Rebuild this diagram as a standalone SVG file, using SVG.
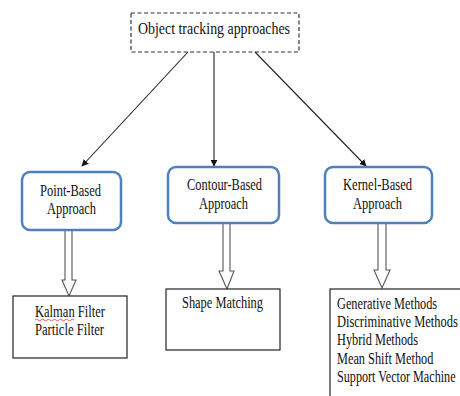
<svg xmlns="http://www.w3.org/2000/svg" width="460" height="396" viewBox="0 0 460 396">
<defs>
<style>
text{font-family:"Liberation Serif","Times New Roman",serif;font-size:16px;fill:#111;}
.blue{fill:#fff;stroke:#4f81bd;stroke-width:2.5;}
.box{fill:#fff;stroke:#222;stroke-width:1.2;}
.line{stroke:#222;stroke-width:1.1;fill:none;}
.hollow{fill:#fff;stroke:#555;stroke-width:1.1;}
</style>
<marker id="ah" viewBox="0 0 10 10" refX="9" refY="5" markerWidth="7" markerHeight="7" orient="auto" markerUnits="userSpaceOnUse">
<path d="M0,0 L10,5 L0,10 z" fill="#111"/>
</marker>
</defs>
<rect width="460" height="396" fill="#fff"/>
<g id="root">
<rect x="131" y="13" width="168" height="39" fill="#fff" stroke="#333" stroke-width="1.2" stroke-dasharray="4,2.5"/>
<text x="138" y="34" textLength="152" lengthAdjust="spacingAndGlyphs">Object tracking approaches</text>
</g>
<g id="connectors">
<line class="line" x1="188" y1="52" x2="82" y2="166" marker-end="url(#ah)"/>
<line class="line" x1="214" y1="52" x2="214" y2="166" marker-end="url(#ah)"/>
<line class="line" x1="255" y1="52" x2="366" y2="166" marker-end="url(#ah)"/>
<path class="hollow" d="M65,230 L72,230 L72,280 L76,280 L69,296 L62,280 L65,280 Z"/>
<path class="hollow" d="M223,223 L230,223 L230,271 L234,271 L227,289 L219,271 L223,271 Z"/>
<path class="hollow" d="M378,223 L386,223 L386,270 L390,270 L382,288 L374,270 L378,270 Z"/>
</g>
<g id="point">
<rect class="blue" x="22" y="172" width="99" height="58" rx="8"/>
<text x="40" y="196" textLength="61" lengthAdjust="spacingAndGlyphs">Point-Based</text>
<text x="47" y="214" textLength="49" lengthAdjust="spacingAndGlyphs">Approach</text>
</g>
<g id="contour">
<rect class="blue" x="168" y="167" width="111" height="56" rx="8"/>
<text x="187" y="190" textLength="75" lengthAdjust="spacingAndGlyphs">Contour-Based</text>
<text x="199" y="209" textLength="49" lengthAdjust="spacingAndGlyphs">Approach</text>
</g>
<g id="kernel">
<rect class="blue" x="325" y="167" width="107" height="56" rx="8"/>
<text x="343" y="190" textLength="69" lengthAdjust="spacingAndGlyphs">Kernel-Based</text>
<text x="353" y="209" textLength="49" lengthAdjust="spacingAndGlyphs">Approach</text>
</g>
<g id="point-list">
<rect class="box" x="13" y="296" width="114" height="62"/>
<text x="35" y="317" textLength="70" lengthAdjust="spacingAndGlyphs">Kalman Filter</text>
<path d="M35,320 q1.5,-1.5 3,0 t3,0 t3,0 t3,0 t3,0 t3,0 t3,0 t3,0 t3,0 t3,0 t3,0 t3,0 t3,0" fill="none" stroke="#d33" stroke-width="0.8"/>
<text x="35" y="335" textLength="69" lengthAdjust="spacingAndGlyphs">Particle Filter</text>
</g>
<g id="contour-list">
<rect class="box" x="166" y="289" width="114" height="61"/>
<text x="182" y="308" textLength="81" lengthAdjust="spacingAndGlyphs">Shape Matching</text>
</g>
<g id="kernel-list">
<rect class="box" x="330" y="289" width="140" height="120"/>
<text transform="translate(337,309) scale(0.77,1)">Generative Methods</text>
<text transform="translate(337,327) scale(0.78,1)">Discriminative Methods</text>
<text transform="translate(337,345) scale(0.77,1)">Hybrid Methods</text>
<text transform="translate(337,364) scale(0.77,1)">Mean Shift Method</text>
<text transform="translate(337,382) scale(0.76,1)">Support Vector Machine</text>
</g>
</svg>
